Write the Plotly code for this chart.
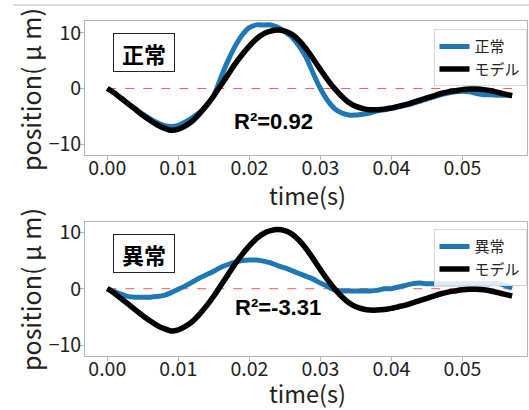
import plotly.graph_objects as go

# ---- data ----
time_s = [0.000, 0.001, 0.002, 0.003, 0.004, 0.005, 0.006, 0.007, 0.008, 0.009,
          0.010, 0.011, 0.012, 0.013, 0.014, 0.015, 0.016, 0.017, 0.018, 0.019,
          0.020, 0.021, 0.022, 0.023, 0.024, 0.025, 0.026, 0.027, 0.028, 0.029,
          0.030, 0.031, 0.032, 0.033, 0.034, 0.035, 0.036, 0.037, 0.038, 0.039,
          0.040, 0.041, 0.042, 0.043, 0.044, 0.045, 0.046, 0.047, 0.048, 0.049,
          0.050, 0.051, 0.052, 0.053, 0.054, 0.055, 0.056, 0.057]

model_um = [0.0, -0.8, -1.8, -2.8, -3.8, -4.8, -5.7, -6.5, -7.1, -7.5,
            -7.3, -6.7, -5.8, -4.5, -3.0, -1.3, 0.6, 2.5, 4.4, 6.1,
            7.6, 8.9, 9.8, 10.3, 10.5, 10.3, 9.7, 8.6, 7.1, 5.3,
            3.4, 1.6, 0.0, -1.4, -2.5, -3.2, -3.6, -3.8, -3.8, -3.7,
            -3.5, -3.2, -2.9, -2.5, -2.1, -1.7, -1.3, -0.9, -0.6, -0.4,
            -0.2, -0.1, -0.1, -0.2, -0.4, -0.7, -1.0, -1.3]

normal_um = [0.0, -0.8, -1.8, -2.8, -3.7, -4.6, -5.4, -6.1, -6.6, -6.8,
             -6.6, -6.0, -5.2, -4.3, -3.0, -1.3, 2.0, 5.0, 7.6, 9.6,
             10.9, 11.4, 11.4, 11.4, 11.0, 10.2, 9.2, 7.6, 5.6, 2.7,
             0.0, -2.1, -3.6, -4.4, -4.75, -4.75, -4.6, -4.4, -4.0, -3.8,
             -3.6, -3.3, -3.0, -2.7, -2.3, -1.9, -1.5, -1.1, -0.8, -0.6,
             -0.5, -0.6, -0.9, -1.1, -1.1, -1.2, -1.2, -1.2]

abnormal_um = [0.0, -0.5, -1.0, -1.4, -1.5, -1.5, -1.5, -1.4, -1.2, -0.7,
               -0.1, 0.5, 1.2, 1.9, 2.5, 3.1, 3.8, 4.3, 4.7, 5.0,
               5.1, 5.1, 4.9, 4.6, 4.1, 3.7, 3.2, 2.7, 2.2, 1.7,
               1.0, 0.4, -0.2, -0.4, -0.4, -0.4, -0.4, -0.4, -0.3, 0.0,
               0.0, 0.3, 0.6, 0.9, 1.0, 0.9, 0.9, 0.9, 0.9, 0.9,
               0.9, 0.9, 0.9, 0.9, 0.9, 0.9, 0.6, 0.1]

x_ticks = [0.00, 0.01, 0.02, 0.03, 0.04, 0.05]
x_tick_text = ["0.00", "0.01", "0.02", "0.03", "0.04", "0.05"]
y_ticks = [-10, 0, 10]
y_tick_text = ["\u221210", "0", "10"]

top_label = "正常"
bottom_label = "異常"
model_label = "モデル"
top_r2 = "R\u00b2=0.92"
bottom_r2 = "R\u00b2=-3.31"
x_title = "time(s)"
y_title = "position( \u03bc m)"

# ---- style ----
JP = "Noto Sans CJK JP"
BLUE = "#1f77b4"
W, H = 529, 410

fig = go.Figure()

fig.add_trace(go.Scatter(x=time_s, y=normal_um, mode="lines", name=top_label,
                         line=dict(color=BLUE, width=5, shape="spline", smoothing=0.4),
                         xaxis="x", yaxis="y", legend="legend"))
fig.add_trace(go.Scatter(x=time_s, y=model_um, mode="lines", name=model_label,
                         line=dict(color="black", width=5.5, shape="spline", smoothing=0.6),
                         xaxis="x", yaxis="y", legend="legend"))
fig.add_trace(go.Scatter(x=time_s, y=abnormal_um, mode="lines", name=bottom_label,
                         line=dict(color=BLUE, width=5, shape="spline", smoothing=0.4),
                         xaxis="x2", yaxis="y2", legend="legend2"))
fig.add_trace(go.Scatter(x=time_s, y=model_um, mode="lines", name=model_label,
                         line=dict(color="black", width=5.5, shape="spline", smoothing=0.6),
                         xaxis="x2", yaxis="y2", legend="legend2"))

def px_x(p):
    return p / W

def px_y(p):
    return 1 - p / H

x_dom = [px_x(85), px_x(527)]
x_range = [-0.00314, 0.0591]

axis_common = dict(showline=True, mirror=True, linecolor="#b5b5b5", linewidth=1,
                   ticks="outside", ticklen=4, tickcolor="#b5b5b5", showgrid=False,
                   zeroline=False, automargin=False,
                   tickfont=dict(family=JP, size=19.5, color="#222222"))

fig.update_layout(
    width=W, height=H, autosize=False,
    margin=dict(l=0, r=0, t=0, b=0),
    paper_bgcolor="white", plot_bgcolor="white",
    xaxis=dict(domain=x_dom, range=x_range, anchor="y", tickvals=x_ticks,
               ticktext=x_tick_text, ticklabelstandoff=-8, **axis_common),
    yaxis=dict(domain=[px_y(155), px_y(20.5)], range=[-11.92, 12.19], anchor="x",
               tickvals=y_ticks, ticktext=y_tick_text, ticklabelstandoff=-5, **axis_common),
    xaxis2=dict(domain=x_dom, range=x_range, anchor="y2", tickvals=x_ticks,
                ticktext=x_tick_text, ticklabelstandoff=-8, **axis_common),
    yaxis2=dict(domain=[px_y(355.7), px_y(221.7)], range=[-11.9, 11.9], anchor="x2",
                tickvals=y_ticks, ticktext=y_tick_text, ticklabelstandoff=-5, **axis_common),
    legend=dict(x=px_x(526.5), y=px_y(29.3), xanchor="right", yanchor="top",
                bgcolor="rgba(255,255,255,0.85)", bordercolor="#d8d8d8", borderwidth=1,
                font=dict(family=JP, size=15, color="#222222")),
    legend2=dict(x=px_x(526.5), y=px_y(229.3), xanchor="right", yanchor="top",
                 bgcolor="rgba(255,255,255,0.85)", bordercolor="#d8d8d8", borderwidth=1,
                 font=dict(family=JP, size=15, color="#222222")),
    showlegend=True,
)

# zero reference lines (red dashed) spanning the data
for xr, yr in (("x", "y"), ("x2", "y2")):
    fig.add_shape(type="line", xref=xr, yref=yr, x0=time_s[0], x1=time_s[-1], y0=0, y1=0,
                  line=dict(color="rgba(255,60,60,0.85)", width=1, dash="dash"), layer="below")

# thin gray line at the very top
fig.add_shape(type="line", xref="paper", yref="paper", x0=px_x(13), x1=1.0,
              y0=px_y(5), y1=px_y(5), line=dict(color="#cfcfcf", width=1.5))

annots = []
# boxed labels
for label, cy in ((top_label, 52.7), (bottom_label, 253.3)):
    annots.append(dict(text="<b>" + label + "</b>", xref="paper", yref="paper",
                       x=px_x(143.5), y=px_y(cy), xanchor="center", yanchor="middle",
                       width=50, height=27,
                       showarrow=False, font=dict(family=JP, size=22, color="black"),
                       bordercolor="#222222", borderwidth=1, borderpad=5, bgcolor="white"))
# R^2 labels
for label, cx, cy in ((top_r2, 273, 121.7), (bottom_r2, 278, 307.5)):
    annots.append(dict(text="<b>" + label + "</b>", xref="paper", yref="paper",
                       x=px_x(cx), y=px_y(cy), xanchor="center", yanchor="middle",
                       showarrow=False, font=dict(family="Liberation Sans", size=22, color="black")))
# axis titles
for cy in (195, 393):
    annots.append(dict(text=x_title, xref="paper", yref="paper", x=px_x(307.5), y=px_y(cy),
                       xanchor="center", yanchor="middle", showarrow=False,
                       font=dict(family=JP, size=23.5, color="#222222")))
for cy in (90, 290):
    annots.append(dict(text=y_title, xref="paper", yref="paper", x=px_x(30), y=px_y(cy),
                       xanchor="center", yanchor="middle", showarrow=False, textangle=-90,
                       font=dict(family=JP, size=25, color="#222222")))
fig.update_layout(annotations=annots)

fig.write_html("out.html", config={"displayModeBar": False},
               post_script="document.body.style.margin='0px';document.body.style.overflow='hidden';")
